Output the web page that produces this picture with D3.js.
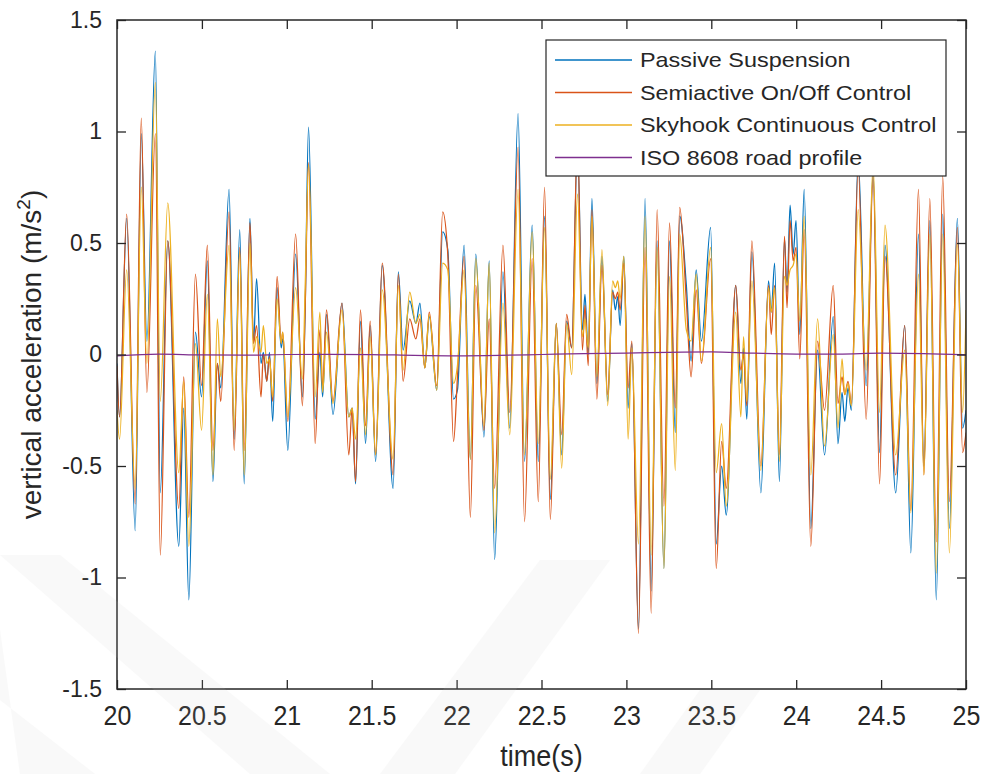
<!DOCTYPE html>
<html>
<head>
<meta charset="utf-8">
<script src="https://cdn.jsdelivr.net/npm/d3@7"></script>
<style>
  body { margin: 0; background: #ffffff; }
  svg { display: block; }
  text { font-family: Arial, "Liberation Sans", sans-serif; fill: #262626; }
</style>
</head>
<body>
<svg id="chart" width="990" height="774"></svg>
<script>
// Sample times (s) of the body-acceleration traces
const time = [
  20.000, 20.015, 20.057, 20.107, 20.143, 20.176, 20.226, 20.255, 20.299, 20.364,
  20.393, 20.423, 20.462, 20.498, 20.532, 20.565, 20.591, 20.611, 20.660, 20.690,
  20.723, 20.749, 20.783, 20.804, 20.822, 20.848, 20.862, 20.882, 20.898, 20.917,
  20.943, 20.967, 20.976, 21.006,
  21.052, 21.092, 21.108, 21.128, 21.167, 21.195, 21.211, 21.234, 21.272, 21.325,
  21.365, 21.385, 21.405, 21.434, 21.464, 21.491, 21.523, 21.562, 21.626, 21.657,
  21.685, 21.724, 21.760, 21.784, 21.813, 21.839, 21.883, 21.918, 21.948, 21.982,
  22.005, 22.044, 22.081, 22.113, 22.161, 22.192, 22.224, 22.273, 22.313, 22.362,
  22.400, 22.445, 22.481, 22.518, 22.552, 22.587, 22.619, 22.648, 22.678, 22.712,
  22.741, 22.756, 22.775, 22.797, 22.826, 22.856, 22.890, 22.919, 22.935, 22.949,
  22.963, 22.985, 23.010,
  23.032, 23.071, 23.110, 23.146, 23.181, 23.221, 23.254, 23.288, 23.314, 23.353,
  23.381, 23.411, 23.442, 23.496, 23.529, 23.561, 23.588, 23.644, 23.674, 23.690,
  23.709, 23.739, 23.792, 23.837, 23.853, 23.873, 23.901, 23.931, 23.946, 23.964,
  23.982, 23.999,
  24.021, 24.047, 24.086, 24.126, 24.167, 24.218, 24.246, 24.270, 24.286, 24.305,
  24.325, 24.365, 24.412, 24.453, 24.491, 24.523, 24.586, 24.639, 24.675, 24.720,
  24.752, 24.787, 24.825, 24.863, 24.902, 24.949, 24.980, 25.000
];

// Passive suspension (m/s^2)
const passive = [
  -0.04, -0.28, 0.61, -0.79, 0.99, 0.06, 1.36, -0.62, 0.51, -0.86,
  -0.24, -1.10, 0.10, -0.19, 0.42, -0.57, -0.04, -0.15, 0.74, -0.38,
  0.56, -0.58, 0.61, 0.05, 0.34, -0.04, 0.01, -0.12, 0.01, -0.30,
  0.30, 0.03, 0.07, -0.43,
  0.45, -0.19, 0.20, 1.02, -0.29, 0.01, -0.19, 0.18, -0.27, 0.23,
  -0.28, -0.24, -0.58, 0.15, -0.40, 0.13, -0.48, 0.40, -0.60, 0.37,
  0.02, 0.24, 0.14, 0.23, -0.06, 0.17, -0.16, 0.55, 0.47, -0.20,
  -0.16, 0.49, -0.47, 0.45, -0.37, 0.42, -0.92, 0.37, -0.33, 1.08,
  -0.48, 0.58, -0.48, 0.62, -0.65, 0.14, -0.45, 0.15, 0.03, 0.95,
  0.11, 0.27, 0.00, 0.70, -0.13, 0.44, -0.21, 0.29, 0.20, 0.26,
  0.13, 0.44, -0.24,
  0.05, -1.23, 0.70, -1.06, 0.51, -0.96, 0.51, -0.35, 0.62, 0.31,
  -0.03, 0.38, 0.06, 0.57, -0.85, -0.50, -0.72, 0.31, -0.13, 0.03,
  -0.29, 0.46, -0.62, 0.33, 0.19, 0.41, -0.57, 0.52, 0.28, 0.67,
  0.45, 0.60,
  0.09, 0.74, -0.78, 0.02, -0.45, 0.17, -0.40, -0.17, -0.30, -0.15,
  -0.25, 0.88, -0.14, 0.82, -0.44, 0.49, -0.62, 0.13, -0.89, 0.54,
  -0.50, 0.60, -1.10, 0.63, -0.78, 0.61, -0.33, -0.25
];

// Semiactive on/off control (m/s^2)
const onOff = [
  -0.05, -0.28, 0.63, -0.67, 1.06, -0.17, 0.99, -0.90, 0.51, -0.69,
  -0.10, -0.73, 0.36, -0.14, 0.49, -0.43, -0.04, -0.21, 0.64, -0.43,
  0.48, -0.43, 0.59, 0.05, 0.13, -0.19, 0.00, -0.12, -0.01, -0.21,
  0.35, 0.05, 0.10, -0.30,
  0.54, -0.23, 0.20, 0.86, -0.40, 0.11, -0.14, 0.20, -0.21, 0.23,
  -0.45, -0.24, -0.57, 0.20, -0.32, 0.15, -0.45, 0.41, -0.54, 0.36,
  -0.12, 0.16, 0.07, 0.16, -0.06, 0.19, -0.14, 0.64, 0.45, -0.39,
  -0.10, 0.44, -0.73, 0.31, -0.34, 0.16, -0.60, 0.49, -0.26, 0.93,
  -0.75, 0.43, -0.66, 0.75, -0.74, 0.14, -0.36, 0.18, 0.03, 0.98,
  0.02, 0.22, -0.05, 0.65, -0.20, 0.40, -0.18, 0.28, 0.25, 0.28,
  0.20, 0.41, -0.15,
  0.06, -1.25, 0.48, -1.16, 0.65, -0.68, 0.59, -0.24, 0.66, 0.24,
  -0.10, 0.29, -0.04, 0.43, -0.96, -0.39, -0.60, 0.31, -0.07, 0.00,
  -0.23, 0.51, -0.50, 0.31, 0.09, 0.31, -0.45, 0.53, 0.21, 0.60,
  0.42, 0.48,
  -0.02, 0.56, -0.86, 0.06, -0.25, 0.31, -0.22, -0.10, -0.18, -0.12,
  -0.22, 0.84, -0.29, 0.80, -0.58, 0.44, -0.54, 0.13, -0.70, 0.74,
  -0.54, 0.70, -0.84, 0.80, -0.66, 0.57, -0.44, -0.35
];

// Skyhook continuous control (m/s^2)
const skyhook = [
  -0.25, -0.38, 0.38, -0.60, 0.75, -0.04, 1.22, -0.21, 0.68, -0.53,
  -0.12, -0.86, 0.05, -0.34, 0.27, -0.54, 0.16, -0.10, 0.49, -0.34,
  0.46, -0.54, 0.50, 0.01, 0.08, 0.01, 0.13, -0.04, -0.02, -0.19,
  0.25, 0.05, 0.10, -0.28,
  0.30, -0.11, 0.30, 0.85, -0.19, 0.19, -0.17, 0.10, -0.22, 0.20,
  -0.28, -0.24, -0.38, 0.03, -0.36, 0.08, -0.45, 0.29, -0.47, 0.31,
  -0.07, 0.28, 0.14, 0.18, -0.06, 0.18, -0.16, 0.41, 0.38, -0.13,
  -0.05, 0.38, -0.47, 0.43, -0.32, 0.41, -0.80, 0.23, -0.36, 0.74,
  -0.45, 0.55, -0.40, 0.57, -0.56, 0.14, -0.51, 0.14, -0.09, 0.72,
  0.08, 0.16, 0.03, 0.62, -0.10, 0.47, -0.23, 0.33, 0.30, 0.33,
  0.25, 0.44, -0.38,
  0.03, -0.85, 0.62, -0.90, 0.48, -0.96, 0.35, -0.52, 0.54, 0.11,
  0.06, 0.36, -0.03, 0.48, -0.53, -0.31, -0.68, 0.19, -0.28, 0.08,
  -0.21, 0.33, -0.52, 0.30, 0.19, 0.30, -0.48, 0.35, 0.31, 0.38,
  0.40, 0.45,
  0.15, 0.62, -0.54, 0.16, -0.41, 0.09, -0.33, -0.02, -0.18, -0.13,
  -0.23, 0.65, -0.07, 0.85, -0.26, 0.58, -0.45, 0.02, -0.71, 0.36,
  -0.54, 0.54, -0.98, 0.54, -0.89, 0.50, -0.26, 0.20
];

// ISO 8608 road profile input
const roadTime = [20, 20.25, 20.5, 20.75, 21, 21.25, 21.5, 21.75, 22, 22.25, 22.5,
                  22.75, 23, 23.25, 23.5, 23.75, 24, 24.25, 24.5, 24.75, 25];
const road = [-0.006, 0.002, -0.002, -0.003, 0.000, 0.001, 0.000, -0.004, -0.006, -0.004, 0.000,
              0.004, 0.006, 0.010, 0.012, 0.006, 0.002, 0.002, 0.006, 0.004, -0.002];

const seriesNames = ["Passive Suspension", "Semiactive On/Off Control",
                     "Skyhook Continuous Control", "ISO 8608 road profile"];
const seriesColors = ["#0072BD", "#D95319", "#EDB120", "#7E2F8E"];
const xTicks = [20, 20.5, 21, 21.5, 22, 22.5, 23, 23.5, 24, 24.5, 25];
const yTicks = [-1.5, -1, -0.5, 0, 0.5, 1, 1.5];

const svg = d3.select("#chart");
const W = 990, H = 774;
const plot = { left: 117, right: 966, top: 20, bottom: 689 };

const x = d3.scaleLinear().domain([20, 25]).range([plot.left, plot.right]);
const y = d3.scaleLinear().domain([-1.5, 1.5]).range([plot.bottom, plot.top]);

svg.append("rect").attr("width", W).attr("height", H).attr("fill", "#ffffff");

svg.append("defs").append("clipPath").attr("id", "plotClip")
  .append("rect")
  .attr("x", plot.left).attr("y", plot.top)
  .attr("width", plot.right - plot.left).attr("height", plot.bottom - plot.top);

// Traces
const traces = [
  { values: passive, t: time, color: seriesColors[0] },
  { values: onOff, t: time, color: seriesColors[1] },
  { values: skyhook, t: time, color: seriesColors[2] },
  { values: road, t: roadTime, color: seriesColors[3] }
];

const line = d3.line()
  .x(d => x(d[0]))
  .y(d => y(d[1]))
  .curve(d3.curveMonotoneX);

const traceG = svg.append("g").attr("clip-path", "url(#plotClip)");
traces.forEach(s => {
  traceG.append("path")
    .datum(s.t.map((t, i) => [t, s.values[i]]))
    .attr("fill", "none")
    .attr("stroke", s.color)
    .attr("stroke-width", 1.25)
    .attr("stroke-linejoin", "round")
    .attr("d", line);
});

// Axes (ticks point inward, box on all four sides)
const axisColor = "#262626";
const tickLen = 9;

const gx = svg.append("g").attr("transform", `translate(0,${plot.bottom})`)
  .call(d3.axisBottom(x).tickValues(xTicks).tickSizeInner(-tickLen).tickSizeOuter(0)
    .tickPadding(15).tickFormat(d => String(d)));
gx.selectAll("text")
  .attr("font-size", 25)
  .attr("dy", "0.71em")
  .attr("transform", "scale(1,1.1)");

svg.append("g").attr("transform", `translate(0,${plot.top})`)
  .call(d3.axisTop(x).tickValues(xTicks).tickSizeInner(-tickLen).tickSizeOuter(0)
    .tickFormat(() => ""));

const gy = svg.append("g").attr("transform", `translate(${plot.left},0)`)
  .call(d3.axisLeft(y).tickValues(yTicks).tickSizeInner(-tickLen).tickSizeOuter(0)
    .tickPadding(15).tickFormat(d => String(d)));
gy.selectAll("text").attr("font-size", 23);

svg.append("g").attr("transform", `translate(${plot.right},0)`)
  .call(d3.axisRight(y).tickValues(yTicks).tickSizeInner(-tickLen).tickSizeOuter(0)
    .tickFormat(() => ""));

svg.selectAll(".domain").remove();
svg.selectAll(".tick line").attr("stroke", axisColor).attr("stroke-width", 1.3);
svg.selectAll(".tick text").attr("fill", axisColor).attr("font-family", "Arial, 'Liberation Sans', sans-serif");

svg.append("rect")
  .attr("x", plot.left).attr("y", plot.top)
  .attr("width", plot.right - plot.left).attr("height", plot.bottom - plot.top)
  .attr("fill", "none").attr("stroke", axisColor).attr("stroke-width", 1.5);

// Axis titles
svg.append("text")
  .attr("transform", `translate(${(plot.left + plot.right) / 2},766) scale(1,1.08)`)
  .attr("text-anchor", "middle")
  .attr("font-size", 27)
  .text("time(s)");

const yTitle = svg.append("text")
  .attr("transform", `translate(41,${(plot.top + plot.bottom) / 2}) rotate(-90)`)
  .attr("text-anchor", "middle")
  .attr("font-size", 28);
yTitle.append("tspan").text("vertical acceleration (m/s");
yTitle.append("tspan").attr("font-size", 19).attr("dy", -11).text("2");
yTitle.append("tspan").attr("dy", 11).text(")");

// Legend
const legend = { x: 546, y: 40, w: 400, h: 136, row0: 60, rowStep: 32.5 };
const lg = svg.append("g");
lg.append("rect")
  .attr("x", legend.x).attr("y", legend.y)
  .attr("width", legend.w).attr("height", legend.h)
  .attr("fill", "#ffffff").attr("stroke", axisColor).attr("stroke-width", 1.2);

seriesNames.forEach((name, i) => {
  const yy = legend.row0 + i * legend.rowStep;
  lg.append("line")
    .attr("x1", legend.x + 9).attr("x2", legend.x + 86)
    .attr("y1", yy).attr("y2", yy)
    .attr("stroke", seriesColors[i]).attr("stroke-width", 1.4);
  lg.append("text")
    .attr("transform", `translate(${legend.x + 94},${yy}) scale(1.17,1)`)
    .attr("dy", "0.36em")
    .attr("font-size", 20)
    .text(name);
});

// Faint diagonal watermark bands across the lower part of the figure
const wm = svg.append("g").attr("fill", "#c8c8c8").attr("opacity", 0.1);
[
  [[0, 555], [60, 555], [330, 774], [250, 774]],
  [[0, 630], [0, 700], [95, 774], [20, 774]],
  [[380, 774], [455, 774], [610, 560], [540, 560]],
  [[640, 774], [700, 774], [760, 690], [700, 690]]
].forEach(p => wm.append("polygon").attr("points", p.map(q => q.join(",")).join(" ")));
</script>
</body>
</html>
